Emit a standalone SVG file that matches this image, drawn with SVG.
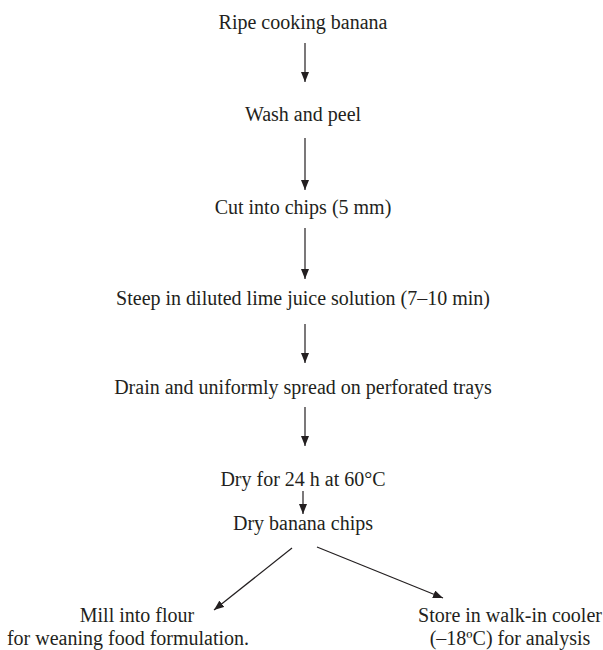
<svg xmlns="http://www.w3.org/2000/svg" width="603" height="650" viewBox="0 0 603 650">
<style>
text{font-family:"Liberation Serif","Times New Roman",serif;font-size:20px;fill:#231f20;text-anchor:middle}
.c line{stroke:#231f20;stroke-width:1.2;fill:none}
</style>
<defs>
<marker id="ah" viewBox="0 0 10 8" refX="10" refY="4" markerWidth="10" markerHeight="8" markerUnits="userSpaceOnUse" orient="auto">
<path d="M0,0 L10,4 L0,8 z" fill="#231f20"/>
</marker>
</defs>
<rect width="603" height="650" fill="#fff"/>
<g id="n1"><text x="303" y="29">Ripe cooking banana</text></g>
<g id="n2"><text x="303" y="121">Wash and peel</text></g>
<g id="n3"><text x="303" y="214">Cut into chips (5 mm)</text></g>
<g id="n4"><text x="303" y="305">Steep in diluted lime juice solution (7–10 min)</text></g>
<g id="n5"><text x="303" y="394">Drain and uniformly spread on perforated trays</text></g>
<g id="n6"><text x="303" y="486">Dry for 24 h at 60°C</text></g>
<g id="n7"><text x="303" y="530">Dry banana chips</text></g>
<g id="n8"><text x="137" y="622">Mill into flour</text><text x="128" y="645">for weaning food formulation.</text></g>
<g id="n9"><text x="510" y="622">Store in walk-in cooler</text><text x="510" y="645">(–18ºC) for analysis</text></g>
<g class="c" id="connectors">
<line x1="305" y1="43" x2="305" y2="82" marker-end="url(#ah)"/>
<line x1="305" y1="138" x2="305" y2="190" marker-end="url(#ah)"/>
<line x1="305" y1="228" x2="305" y2="279" marker-end="url(#ah)"/>
<line x1="305" y1="324" x2="305" y2="363" marker-end="url(#ah)"/>
<line x1="305" y1="407" x2="305" y2="446" marker-end="url(#ah)"/>
<line x1="303" y1="491" x2="303" y2="514" marker-end="url(#ah)"/>
<line x1="292" y1="548" x2="214" y2="610" marker-end="url(#ah)"/>
<line x1="317" y1="547" x2="443" y2="598" marker-end="url(#ah)"/>
</g>
</svg>
